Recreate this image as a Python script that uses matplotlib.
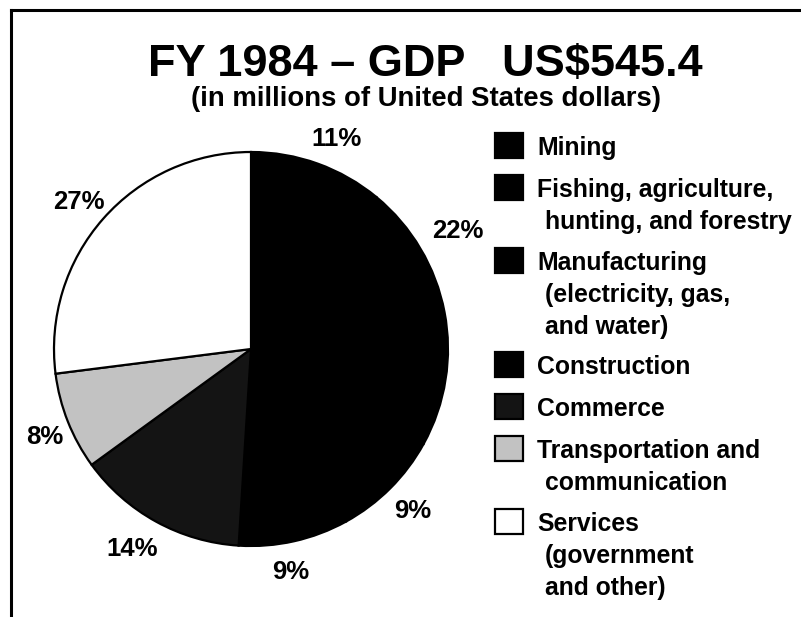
import numpy as np
import matplotlib
matplotlib.use("Agg")
import matplotlib.pyplot as plt
from matplotlib.patches import Rectangle
from matplotlib.lines import Line2D

plt.rcParams['font.family'] = ['Liberation Sans', 'DejaVu Sans']

# ---- data ----
sectors = ["Mining",
           "Fishing, agriculture,\nhunting, and forestry",
           "Manufacturing\n(electricity, gas,\nand water)",
           "Construction",
           "Commerce",
           "Transportation and\ncommunication",
           "Services\n(government\nand other)"]
shares = [11, 22, 9, 9, 14, 8, 27]
pct_labels = ["11%", "22%", "9%", "9%", "14%", "8%", "27%"]
colors = ["#000000", "#000000", "#000000", "#000000", "#141414", "#c2c2c2", "#ffffff"]
title = "FY 1984 \u2013 GDP   US$545.4"
subtitle = "(in millions of United States dollars)"

# label placement tweaks (angle offset in degrees, distance in radii)
label_angle_offset = [2.5, -19, 0, 2.5, 2, -1.5, -1]
label_dist = [1.15, 1.21, 1.16, 1.15, 1.18, 1.14, 1.15]

W, H = 801, 617
fig = plt.figure(figsize=(W / 100, H / 100), dpi=100)
fig.patch.set_facecolor("white")

# overlay axes in pixel coordinates (for frame, titles, legend)
ov = fig.add_axes([0, 0, 1, 1])
ov.set_xlim(0, W)
ov.set_ylim(H, 0)
ov.axis("off")

# pie axes
cx, cy, R = 251, 349, 197
half = 1.3
pw = 2 * half * R
pie_ax = fig.add_axes([(cx - half * R) / W, (H - cy - half * R) / H, pw / W, pw / H])
wedges, _ = pie_ax.pie(shares, colors=colors, startangle=90, counterclock=False,
                       wedgeprops=dict(edgecolor="black", linewidth=1.6))
pie_ax.set_xlim(-half, half)
pie_ax.set_ylim(-half, half)
pie_ax.set_aspect("equal")

for w, lab, off, d in zip(wedges, pct_labels, label_angle_offset, label_dist):
    ang = np.deg2rad((w.theta1 + w.theta2) / 2 - off)
    pie_ax.text(d * np.cos(ang), d * np.sin(ang), lab, ha="center", va="center",
                fontsize=18.5, fontweight="bold", color="black")

# frame lines (top and left)
ov.add_line(Line2D([11, W], [10, 10], color="black", linewidth=2.2))
ov.add_line(Line2D([11, 11], [10, H], color="black", linewidth=2.2))

# titles
ov.text(425, 76, title, ha="center", va="baseline", fontsize=32.5, fontweight="bold",
        color="black")
ov.text(426, 106, subtitle, ha="center", va="baseline", fontsize=19.8,
        fontweight="bold", color="black")

# legend
y = 145
for name, col in zip(sectors, colors):
    ov.add_patch(Rectangle((495, y - 12), 28, 25, facecolor=col, edgecolor="black",
                           linewidth=1.6))
    lines = name.split("\n")
    for i, ln in enumerate(lines):
        ov.text(537 if i == 0 else 545, y + 10 + 32 * i, ln, ha="left", va="baseline",
                fontsize=17.8, fontweight="bold", color="black")
    y += 42 + 31 * (len(lines) - 1)

fig.savefig("out.png", dpi=100, facecolor="white")
